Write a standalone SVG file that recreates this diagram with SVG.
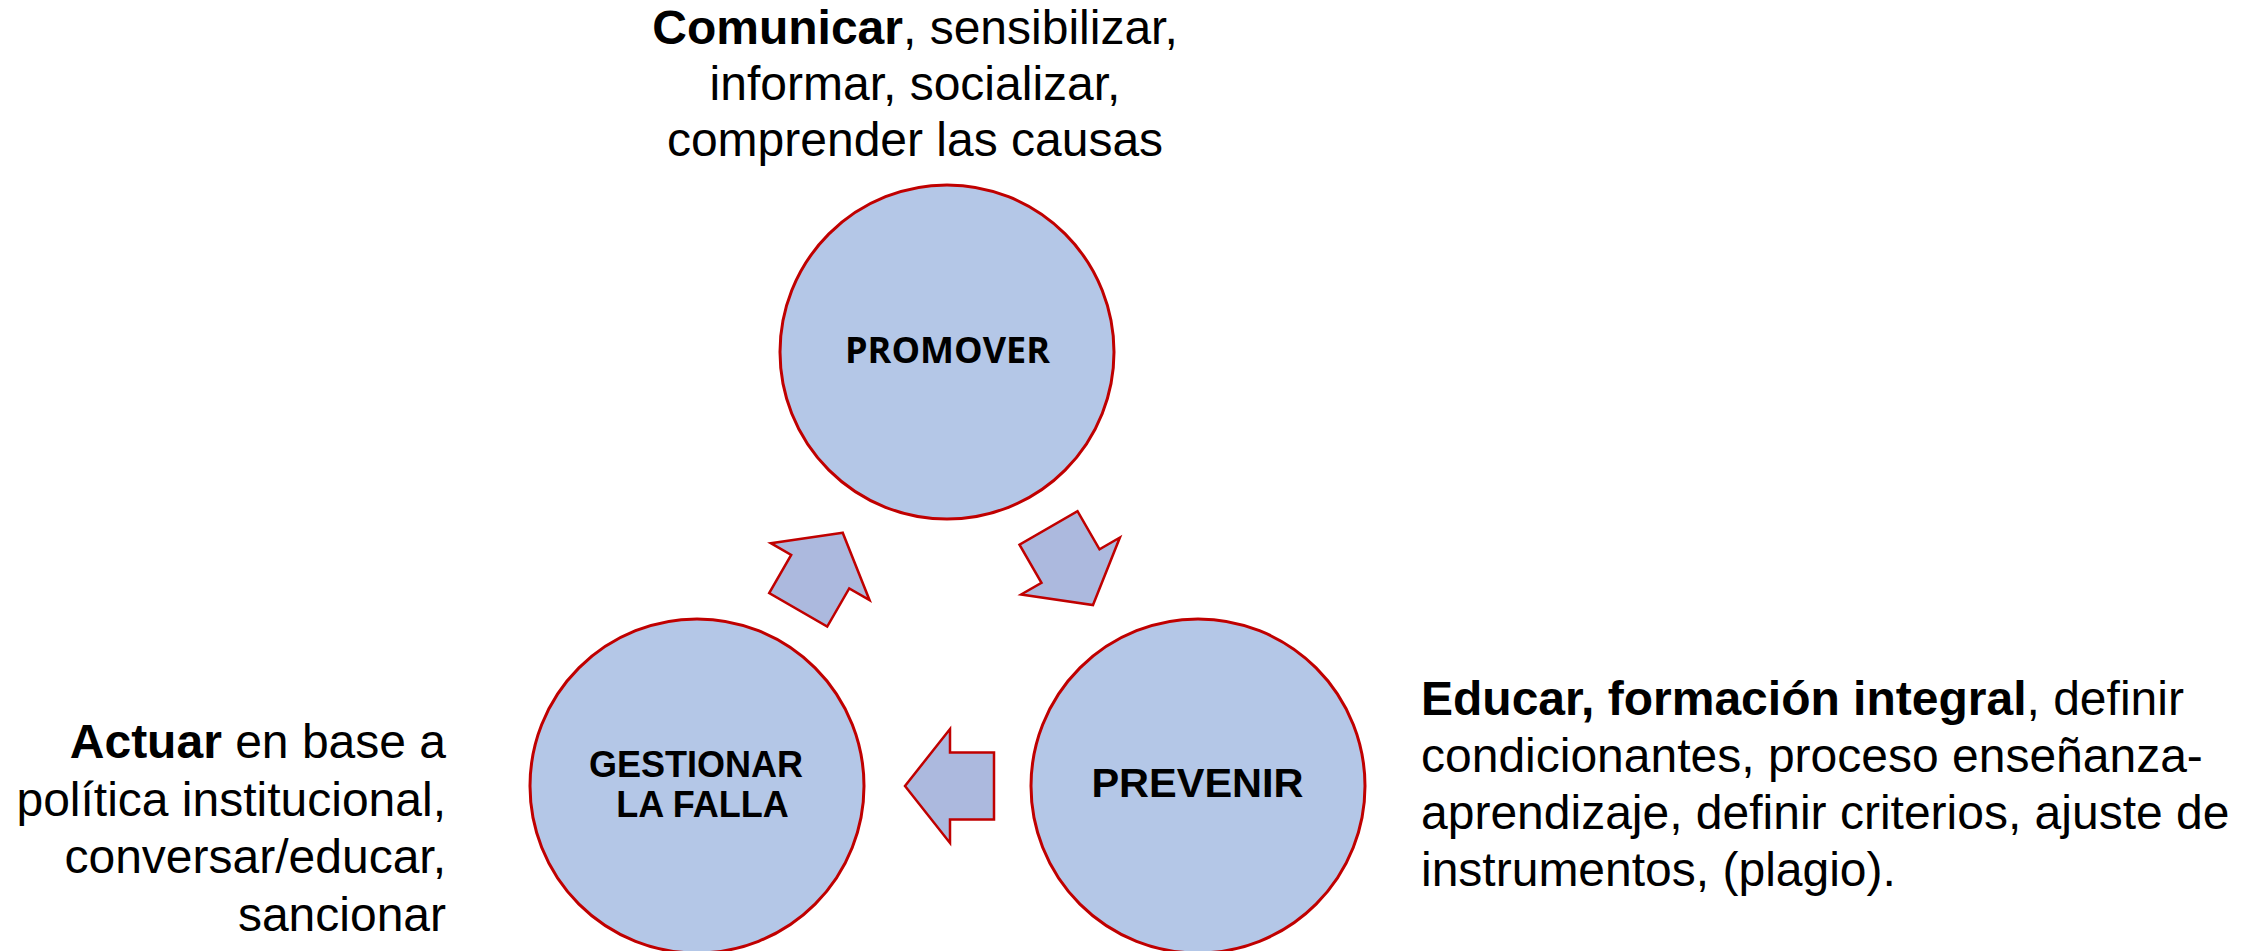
<svg xmlns="http://www.w3.org/2000/svg" width="2243" height="951" viewBox="0 0 2243 951">
  <style>
    .node { fill: #B4C7E7; stroke: #C00000; stroke-width: 3; }
    .arrow { fill: #ACB9DE; stroke: #C00000; stroke-width: 2.5; stroke-linejoin: miter; }
    .txt { font-family: "Liberation Sans", Arial, sans-serif; font-size: 48px; fill: #000; }
    .b { font-weight: bold; }
    .lbl { font-family: "Liberation Sans", Arial, sans-serif; font-weight: bold; fill: #000; text-anchor: middle; }
    .lblc { font-family: "Open Sans", "Lato", sans-serif; font-weight: bold; fill: #000; text-anchor: middle; }
  </style>
  <defs>
    <polygon id="blockArrow" points="0,0 -45,-57 -45,-33.5 -89,-33.5 -89,33.5 -45,33.5 -45,57"/>
  </defs>
  <rect width="2243" height="951" fill="#FFFFFF"/>

  <g id="connectors">
    <use href="#blockArrow" class="arrow" transform="translate(842.7,532.7) rotate(-60)"/>
    <use href="#blockArrow" class="arrow" transform="translate(1093,605) rotate(60)"/>
    <use href="#blockArrow" class="arrow" transform="translate(905,786) rotate(180)"/>
  </g>

  <g id="node-promover">
    <circle class="node" cx="947" cy="352" r="167"/>
    <text class="lblc" x="947.5" y="363" font-size="36">PROMOVER</text>
  </g>
  <g id="node-gestionar">
    <circle class="node" cx="697" cy="786" r="167"/>
    <text class="lbl" font-size="36"><tspan x="696" y="777">GESTIONAR</tspan><tspan x="702.5" y="817">LA FALLA</tspan></text>
  </g>
  <g id="node-prevenir">
    <circle class="node" cx="1198" cy="786" r="167"/>
    <text class="lbl" x="1197.5" y="797" font-size="41.5">PREVENIR</text>
  </g>

  <g id="text-promover">
    <text class="txt" text-anchor="middle"><tspan x="915" y="44"><tspan class="b">Comunicar</tspan>, sensibilizar,</tspan><tspan x="915" y="100">informar, socializar,</tspan><tspan x="915" y="156">comprender las causas</tspan></text>
  </g>
  <g id="text-gestionar">
    <text class="txt" text-anchor="end"><tspan x="446" y="758"><tspan class="b">Actuar</tspan> en base a</tspan><tspan x="446" y="815.5">política institucional,</tspan><tspan x="446" y="873">conversar/educar,</tspan><tspan x="446" y="930.5">sancionar</tspan></text>
  </g>
  <g id="text-prevenir">
    <text class="txt" text-anchor="start"><tspan x="1421" y="715"><tspan class="b">Educar, formación integral</tspan>, definir</tspan><tspan x="1421" y="772">condicionantes, proceso enseñanza-</tspan><tspan x="1421" y="829">aprendizaje, definir criterios, ajuste de</tspan><tspan x="1421" y="886">instrumentos, (plagio).</tspan></text>
  </g>
</svg>
